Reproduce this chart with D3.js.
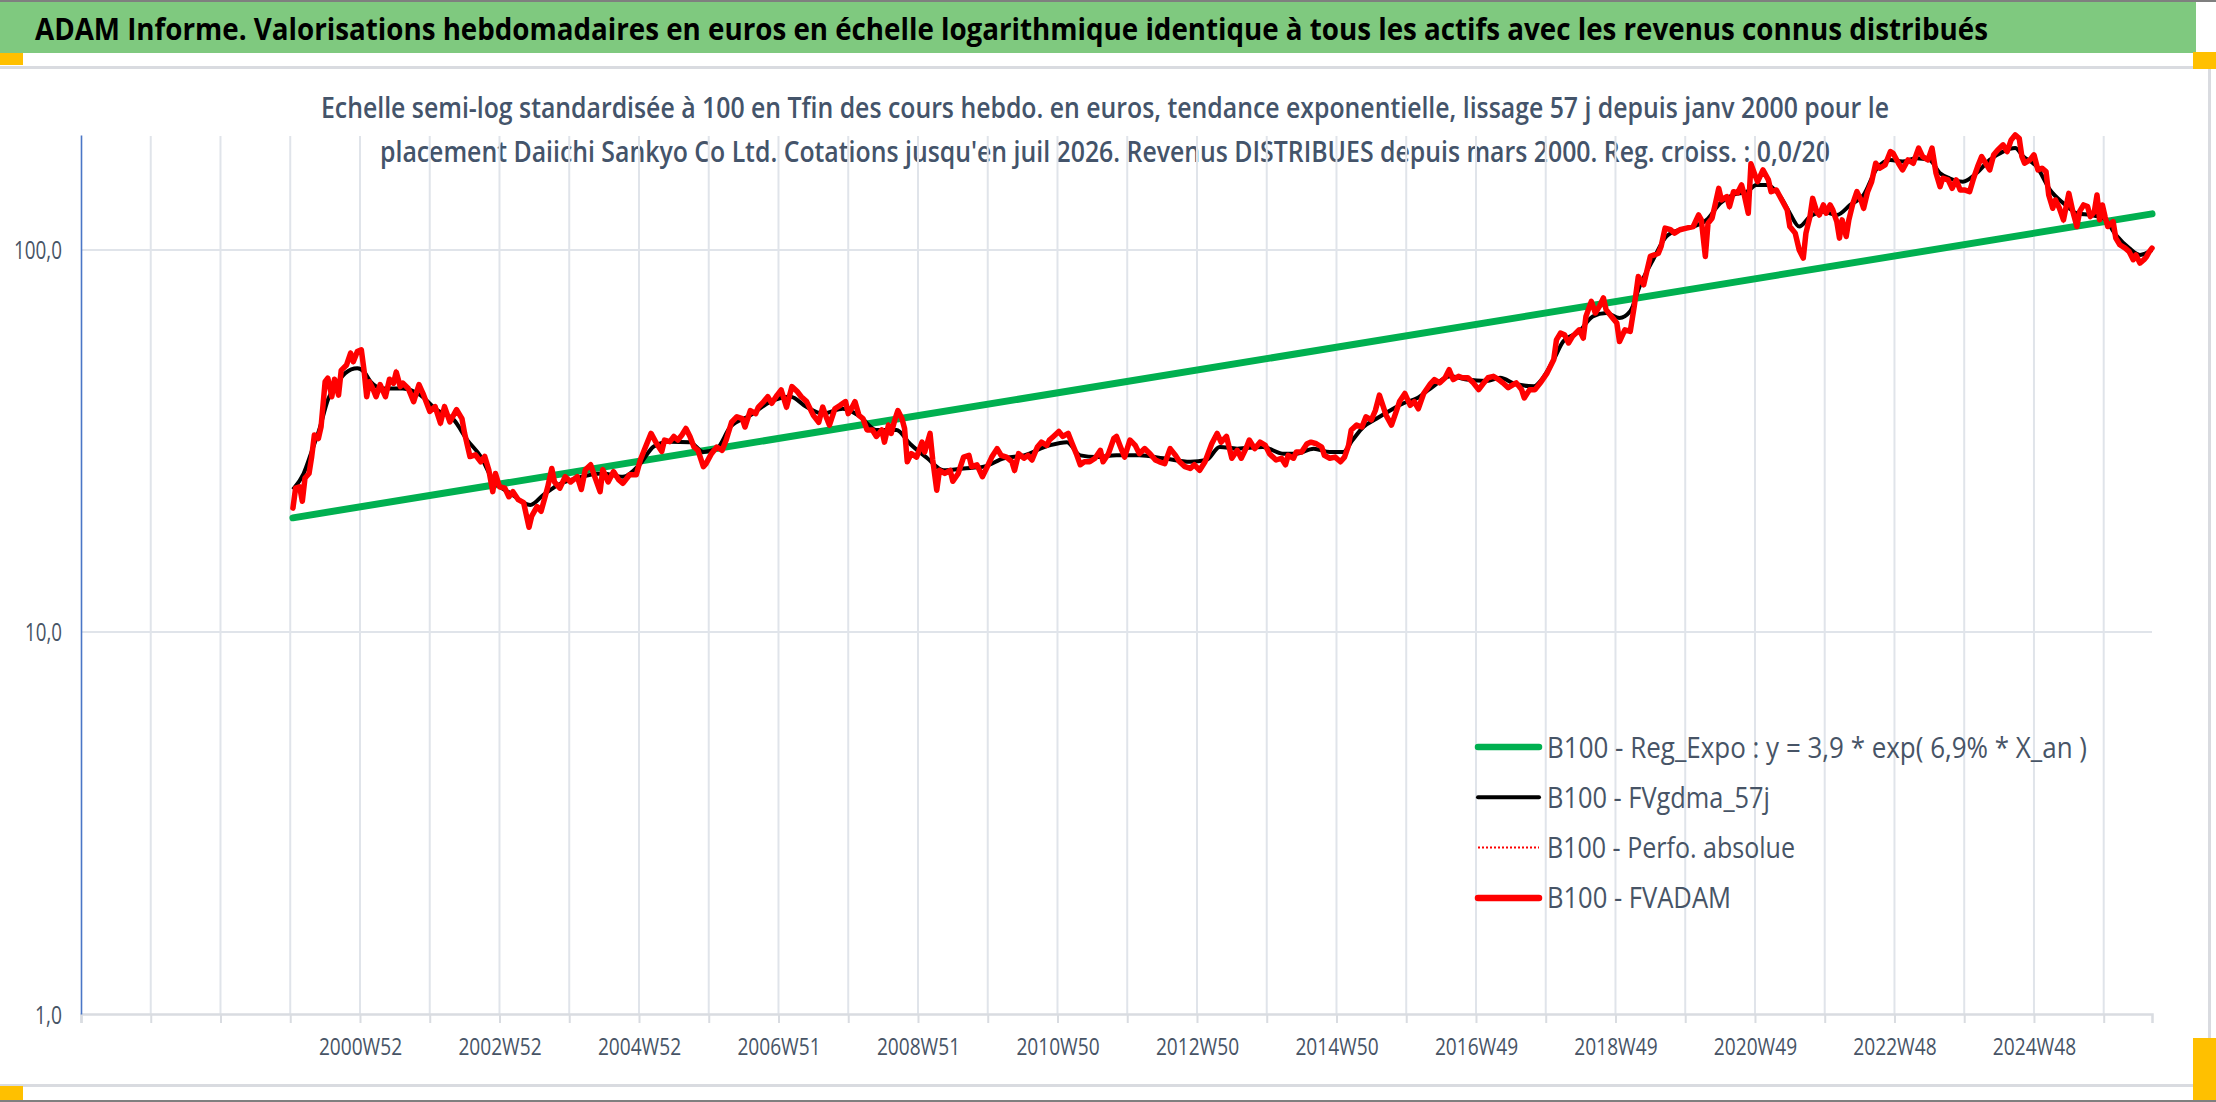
<!DOCTYPE html>
<html>
<head>
<meta charset="utf-8">
<script src="https://cdn.jsdelivr.net/npm/d3@7/dist/d3.min.js"></script>
<style>
  body { margin: 0; background: #fff; }
  svg { display: block; font-family: "Open Sans", "Noto Sans", sans-serif; }
</style>
</head>
<body>
<svg id="chart" width="2216" height="1102"></svg>
<script>
// ---- data (week index on the category axis, value in base 100) ----
const fvadam = [
  [158,21.1],[160,23.8],[163,24.0],[165,22.0],[167,25.3],[170,26.0],[172,28.8],[174,32.8],[177,32.1],[179,34.5],
  [182,45.2],[184,46.2],[187,41.3],[189,45.9],[192,41.7],[194,48.4],[198,50.0],[201,53.7],[203,51.0],[206,54.2],
  [209,54.8],[211,48.5],[213,41.3],[215,45.2],[218,43.0],[220,41.3],[223,44.4],[227,41.3],[230,45.9],[233,44.8],
  [235,47.9],[238,43.9],[240,44.8],[244,43.4],[248,40.1],[252,44.4],[255,42.1],[260,37.8],[264,38.9],[268,35.2],
  [271,38.9],[275,35.5],[280,38.2],[284,36.2],[286,33.1],[290,28.8],[294,29.1],[298,27.9],[301,28.8],[304,26.6],
  [307,23.3],[309,26.0],[312,24.0],[316,23.8],[319,22.6],[322,23.3],[326,22.2],[330,21.8],[334,18.8],[336,20.1],
  [340,21.3],[343,20.7],[346,22.6],[348,24.0],[351,26.8],[353,24.7],[357,23.8],[361,25.5],[365,24.7],[370,25.5],
  [373,23.6],[376,26.6],[380,27.4],[383,25.5],[387,23.3],[389,26.6],[393,24.7],[397,26.3],[401,25.0],[404,24.5],
  [409,25.8],[414,25.8],[417,28.2],[421,30.6],[425,33.1],[429,31.2],[433,29.7],[435,31.8],[439,31.5],
  [442,32.5],[445,31.8],[448,32.8],[451,34.1],[454,32.5],[457,30.5],[460,29.9],[464,27.1],[466,27.6],[470,29.3],
  [474,30.5],[478,29.9],[481,31.8],[485,35.4],[489,36.6],[493,36.2],[495,34.4],[499,38.0],[503,37.3],[505,38.8],
  [509,40.1],[512,41.3],[515,39.7],[519,41.7],[522,43.0],[526,38.8],[530,43.9],[534,42.6],[537,41.3],[541,40.1],
  [546,36.9],[550,35.4],[553,38.8],[556,36.2],[558,34.8],[562,38.4],[566,39.2],[570,40.1],[572,37.3],[575,38.8],
  [577,40.1],[580,36.9],[583,36.2],[586,33.8],[590,33.8],[593,32.5],[597,33.8],[599,31.4],[602,34.8],[604,33.1],
  [607,36.2],[609,38.0],[612,36.2],[614,34.1],[616,27.9],[619,29.3],[623,28.7],[627,31.4],[629,29.6],[633,33.1],
  [635,28.2],[638,23.5],[640,26.5],[644,26.0],[648,26.5],[650,24.8],[654,26.0],[658,28.7],[662,29.0],[664,27.1],
  [668,27.4],[672,25.5],[675,26.8],[679,28.7],[683,30.2],[686,29.0],[690,28.7],[694,27.9],[696,26.5],[699,29.3],
  [703,28.5],[706,29.0],[709,28.2],[713,30.5],[716,31.4],[720,30.8],[722,31.8],
  [725,32.5],[729,33.5],[732,32.5],[736,33.1],[739,31.1],[742,29.3],[745,27.4],[748,27.9],[752,27.9],[756,28.5],
  [760,29.9],[762,27.9],[766,29.3],[770,32.1],[772,32.5],[775,30.5],[778,28.7],[782,31.8],[786,30.8],[789,29.3],
  [793,30.2],[797,29.3],[801,28.2],[804,27.9],[808,27.6],[812,30.2],[816,29.0],[819,27.9],[823,27.1],[827,26.8],
  [830,27.4],[834,26.5],[838,27.9],[843,31.1],[847,33.1],[850,31.4],[854,32.5],[858,28.5],[862,29.9],[865,28.5],
  [869,30.5],[871,31.8],[875,30.2],[879,31.4],[883,30.8],[886,29.3],[891,28.2],[895,28.5],[898,27.4],[900,29.0],
  [904,28.5],[906,29.6],[910,29.6],[914,31.1],[917,31.4],[921,31.1],[925,30.5],[927,29.0],[931,28.5],[935,28.7],
  [939,27.9],[942,28.7],[945,30.8],[947,33.8],[951,34.8],[955,34.4],[958,36.6],[962,35.9],[965,38.0],[968,41.7],
  [971,38.8],[973,36.9],[977,34.8],[980,37.3],[983,40.1],[987,42.1],[991,39.2],[994,40.1],[997,38.4],[1001,42.1],
  [1006,44.6],[1009,45.8],[1013,44.9],[1017,46.3],[1020,48.6],[1023,45.8],[1027,46.7],[1030,46.3],[1034,46.3],
  [1038,44.9],[1042,43.1],[1045,44.5],[1049,46.3],[1053,46.7],[1057,45.8],[1060,44.9],[1064,43.6],[1068,44.5],
  [1070,44.9],[1074,43.1],[1076,41.0],[1080,43.1],[1084,43.1],[1088,44.9],[1093,47.6],[1098,51.7],[1100,58.2],
  [1103,60.6],[1106,60.0],[1109,57.1],[1112,59.4],[1117,61.8],[1120,58.8],[1122,67.0],[1126,73.4],[1129,68.4],
  [1132,71.2],[1135,74.9],[1137,69.8],[1141,67.0],[1145,64.4],[1147,57.6],[1151,61.8],[1155,61.2],[1158,71.2],
  [1161,85.2],[1165,81.1],[1167,86.9],[1170,96.2],[1173,97.1],[1176,98.1],[1178,102.1],[1181,114.1],[1185,113.0],
  [1188,110.7],[1192,113.0],[1197,114.1],[1202,115.2],[1206,123.5],[1208,119.9],[1211,96.2],[1213,117.5],
  [1216,121.1],[1218,129.9],[1221,145.0],[1223,135.2],[1227,137.9],[1229,129.9],[1232,142.1],[1235,141.0],
  [1238,148.0],[1240,139.6],[1243,124.8],[1245,168.1],[1248,157.2],[1250,151.0],[1254,162.0],[1258,152.6],
  [1260,142.1],[1264,143.6],[1268,135.2],[1272,127.4],[1274,115.2],[1278,110.7],[1281,100.0],
  [1284,95.2],[1286,110.7],[1289,122.3],[1291,136.5],[1294,126.0],[1296,123.5],[1299,131.2],[1301,124.8],
  [1304,131.2],[1306,127.4],[1309,118.7],[1311,107.4],[1313,119.9],[1316,108.5],[1318,119.9],[1321,132.5],
  [1324,142.1],[1327,135.2],[1329,128.6],[1332,142.1],[1335,151.0],[1338,168.7],[1341,163.7],[1345,167.0],
  [1349,181.0],[1351,179.1],[1355,168.7],[1358,162.0],[1362,172.1],[1366,168.7],[1370,184.8],[1373,175.6],
  [1377,172.1],[1380,184.8],[1383,158.8],[1386,146.5],[1388,154.1],[1392,152.6],[1395,145.0],[1398,152.6],
  [1401,143.6],[1404,143.6],[1408,142.1],[1411,154.1],[1414,165.3],[1417,175.6],[1420,168.7],[1423,162.0],
  [1426,177.5],[1429,182.8],[1433,188.5],[1436,181.0],[1439,194.2],[1442,200.0],[1445,196.1],[1447,175.6],
  [1449,168.7],[1453,172.1],[1456,177.5],[1459,162.0],[1462,163.7],[1465,160.4],[1467,139.3],[1470,128.6],
  [1472,135.2],[1475,128.6],[1478,119.9],[1480,129.9],[1482,140.7],[1485,126.0],[1488,115.2],[1490,126.0],
  [1493,131.2],[1496,129.9],[1498,122.3],[1501,126.0],[1503,139.3],[1505,119.9],[1507,131.2],[1509,122.3],
  [1511,115.2],[1515,118.7],[1517,107.4],[1520,103.2],[1524,101.1],[1527,99.0],[1530,94.3],[1532,97.1],
  [1535,92.4],[1538,94.3],[1540,96.2],[1542,99.0],[1544,101.1]
];

const fvgdma57 = [
  [158,23.6],[166,26.0],[172,29.7],[178,34.2],[184,40.5],[191,44.8],[197,47.6],[206,49.0],[211,48.0],[216,45.2],
  [225,43.4],[240,43.4],[253,41.7],[265,38.2],[278,35.9],[288,31.8],[298,28.8],[307,25.0],[320,23.1],[335,21.5],
  [345,22.9],[355,24.2],[370,25.3],[389,26.0],[404,25.5],[417,27.6],[427,30.6],[439,31.5],[454,31.4],[464,29.6],
  [474,30.2],[484,34.4],[499,36.9],[514,40.1],[529,41.3],[541,38.8],[553,37.3],[568,38.4],[581,36.6],[593,33.8],
  [608,33.8],[618,31.1],[631,28.5],[643,26.5],[658,26.8],[673,27.1],[688,28.5],[703,29.0],[722,30.8],[735,31.4],
  [745,29.0],[757,28.7],[772,29.0],[789,29.0],[807,28.5],[827,27.9],[839,28.2],[849,30.5],[862,30.2],[881,30.5],
  [896,29.3],[906,29.3],[919,30.2],[931,29.6],[941,29.6],[948,31.8],[956,34.4],[966,36.2],[976,38.0],[986,39.7],
  [996,40.9],[1006,43.4],[1021,46.7],[1033,45.8],[1048,45.4],[1058,46.3],[1070,44.5],[1083,44.0],[1090,46.3],
  [1098,51.7],[1105,57.6],[1117,61.2],[1127,67.0],[1137,68.4],[1147,66.4],[1155,69.1],[1162,80.3],[1172,94.3],
  [1182,108.5],[1192,113.0],[1202,115.2],[1212,119.9],[1222,132.5],[1232,139.6],[1242,142.1],[1249,148.0],
  [1257,148.0],[1267,137.9],[1274,124.8],[1281,115.2],[1289,122.3],[1299,126.0],[1309,123.5],[1319,131.2],
  [1329,139.3],[1339,163.7],[1349,172.1],[1358,170.4],[1368,173.8],[1378,172.1],[1386,158.8],[1393,154.1],
  [1403,151.0],[1413,158.8],[1423,172.1],[1433,181.0],[1442,184.8],[1448,175.8],[1458,165.3],[1468,143.6],
  [1478,132.5],[1488,124.8],[1498,123.5],[1508,121.1],[1517,109.6],[1527,101.1],[1535,97.1],[1544,100.0]
];

// exponential regression, end points
const regWeeks = [158, 1544];
const regValues = [19.9, 124.3];

const tickLabels = ["2000W52","2002W52","2004W52","2006W51","2008W51","2010W50","2012W50",
                    "2014W50","2016W49","2018W49","2020W49","2022W48","2024W48"];
const yTicks = [1, 10, 100];

const legendLabels = [
  "B100 - Reg_Expo : y = 3,9 * exp( 6,9% *  X_an )",
  "B100 - FVgdma_57j",
  "B100 - Perfo. absolue",
  "B100 - FVADAM"
];

// ---- layout ----
const W = 2216, H = 1102;
const plot = { left: 81, right: 2152, top: 135, bottom: 1014 };
const nWeeks = 1544;
const textColor = "#475466";
const gridColor = "#e0e4ea";
const yLabelWidth = { "1,0": 27, "10,0": 37, "100,0": 48 };

const svg = d3.select("#chart");

// squeeze text horizontally (the source font is a narrow one)
function squeeze(sel, factor, target) {
  sel.each(function() {
    const len = target || this.getComputedTextLength() * factor;
    d3.select(this).attr("textLength", len).attr("lengthAdjust", "spacingAndGlyphs");
  });
}

// frame
svg.append("rect").attr("width", W).attr("height", H).attr("fill", "#fff");
svg.append("rect").attr("x", 0).attr("y", 0).attr("width", W).attr("height", 2).attr("fill", "#7f7f7f");
svg.append("rect").attr("x", 0).attr("y", H - 2).attr("width", W).attr("height", 2).attr("fill", "#7f7f7f");
svg.append("rect").attr("x", 0).attr("y", 2).attr("width", 2196).attr("height", 51).attr("fill", "#7fc97f");

svg.append("path")
  .attr("d", "M0,67.5H2209.5V1085.5H0")
  .attr("fill", "none").attr("stroke", "#d9dbe0").attr("stroke-width", 3);

[[0, 53, 23, 12], [2193, 52, 23, 17], [0, 1086, 23, 14], [2193, 1038, 23, 62]].forEach(function(r) {
  svg.append("rect").attr("x", r[0]).attr("y", r[1]).attr("width", r[2]).attr("height", r[3]).attr("fill", "#ffc000");
});

// titles
svg.append("text")
  .attr("x", 35).attr("y", 40)
  .attr("font-size", 29.5).attr("font-weight", 700).attr("fill", "#000")
  .text("ADAM Informe. Valorisations hebdomadaires en euros en échelle logarithmique identique à tous les actifs avec les revenus connus distribués")
  .call(squeeze, 0, 1953);

svg.append("text")
  .attr("x", 321).attr("y", 118)
  .attr("font-size", 28).attr("font-weight", 600).attr("fill", "#44546a")
  .text("Echelle semi-log standardisée à 100 en Tfin des cours hebdo. en euros, tendance exponentielle, lissage 57 j depuis janv 2000 pour le")
  .call(squeeze, 0, 1568);

svg.append("text")
  .attr("x", 380).attr("y", 162)
  .attr("font-size", 28).attr("font-weight", 600).attr("fill", "#44546a")
  .text("placement Daiichi Sankyo Co Ltd. Cotations jusqu'en juil 2026. Revenus DISTRIBUES depuis mars 2000. Reg. croiss. : 0,0/20")
  .call(squeeze, 0, 1450);

// scales
const x = d3.scaleLinear().domain([0, nWeeks]).range([plot.left, plot.right]);
const y = d3.scaleLog().domain([1, 200]).range([plot.bottom, plot.top]);

const gridWeeks = d3.range(52, nWeeks, 52);
const tickWeeks = tickLabels.map(function(d, i) { return 208 + i * 104; });

// gridlines
const grid = svg.append("g");
grid.selectAll(".vg").data(gridWeeks).enter().append("line")
  .attr("x1", d => x(d)).attr("x2", d => x(d))
  .attr("y1", plot.top + 1).attr("y2", plot.bottom)
  .attr("stroke", gridColor).attr("stroke-width", 2);
grid.selectAll(".hg").data([10, 100]).enter().append("line")
  .attr("x1", plot.left).attr("x2", plot.right)
  .attr("y1", d => y(d)).attr("y2", d => y(d))
  .attr("stroke", gridColor).attr("stroke-width", 2);

// x axis: tick marks every 52 weeks, labels every 104
const xTicks = svg.append("g")
  .attr("transform", `translate(0,${plot.bottom})`)
  .call(d3.axisBottom(x).tickValues(d3.range(0, nWeeks, 52)).tickSize(9).tickFormat(""));
xTicks.select(".domain").attr("stroke", "#d9dce1").attr("stroke-width", 2.5);
xTicks.selectAll(".tick line").attr("stroke", "#d9dce1").attr("stroke-width", 2);

const xLabels = svg.append("g")
  .attr("transform", `translate(0,${plot.bottom})`)
  .call(d3.axisBottom(x).tickValues(tickWeeks).tickSize(0).tickPadding(24)
    .tickFormat((d, i) => tickLabels[i]));
xLabels.select(".domain").remove();
xLabels.selectAll("text")
  .attr("font-family", "Open Sans").attr("font-size", 24.5).attr("fill", textColor)
  .call(squeeze, 0.78);

// y axis
const yAxis = svg.append("g")
  .attr("transform", `translate(${plot.left},0)`)
  .call(d3.axisLeft(y).tickValues(yTicks).tickSize(0).tickPadding(19)
    .tickFormat(d => d.toFixed(1).replace(".", ",")));
yAxis.select(".domain").attr("stroke", "#4a76c6").attr("stroke-width", 1.6);
yAxis.selectAll("text")
  .attr("font-family", "Open Sans").attr("font-size", 25).attr("fill", textColor).attr("dy", "0.36em")
  .each(function() {
    const t = d3.select(this);
    t.attr("textLength", yLabelWidth[t.text()]).attr("lengthAdjust", "spacingAndGlyphs");
  });

// series
const line = d3.line().x(d => x(d[0])).y(d => y(d[1]));
const smooth = d3.line().x(d => x(d[0])).y(d => y(d[1])).curve(d3.curveMonotoneX);

svg.append("path")
  .datum(d3.zip(regWeeks, regValues))
  .attr("d", line)
  .attr("fill", "none").attr("stroke", "#00b050").attr("stroke-width", 7).attr("stroke-linecap", "round");

svg.append("path")
  .datum(fvgdma57)
  .attr("d", smooth)
  .attr("fill", "none").attr("stroke", "#000").attr("stroke-width", 4);

svg.append("path")
  .datum(fvadam)
  .attr("d", line)
  .attr("fill", "none").attr("stroke", "#ff0000").attr("stroke-width", 2).attr("stroke-dasharray", "2,2");

svg.append("path")
  .datum(fvadam)
  .attr("d", line)
  .attr("fill", "none").attr("stroke", "#ff0000").attr("stroke-width", 5.5)
  .attr("stroke-linejoin", "round").attr("stroke-linecap", "round");

// legend
const legendStyles = [
  { color: "#00b050", width: 6.5, dash: null, len: 540 },
  { color: "#000000", width: 4, dash: null, len: 223 },
  { color: "#ff0000", width: 2, dash: "2,2", len: 248 },
  { color: "#ff0000", width: 6.5, dash: null, len: 184 }
];
const legend = svg.append("g").attr("transform", "translate(1476,747)");
legendLabels.forEach(function(label, i) {
  const st = legendStyles[i];
  const row = legend.append("g").attr("transform", `translate(0,${i * 50.3})`);
  row.append("line")
    .attr("x1", 2).attr("x2", 63).attr("y1", 0).attr("y2", 0)
    .attr("stroke", st.color).attr("stroke-width", st.width)
    .attr("stroke-linecap", st.dash ? "butt" : "round")
    .attr("stroke-dasharray", st.dash);
  row.append("text")
    .attr("x", 71).attr("y", 10.5)
    .attr("font-size", 30).attr("fill", textColor)
    .text(label)
    .call(squeeze, 0, st.len);
});
</script>
</body>
</html>
